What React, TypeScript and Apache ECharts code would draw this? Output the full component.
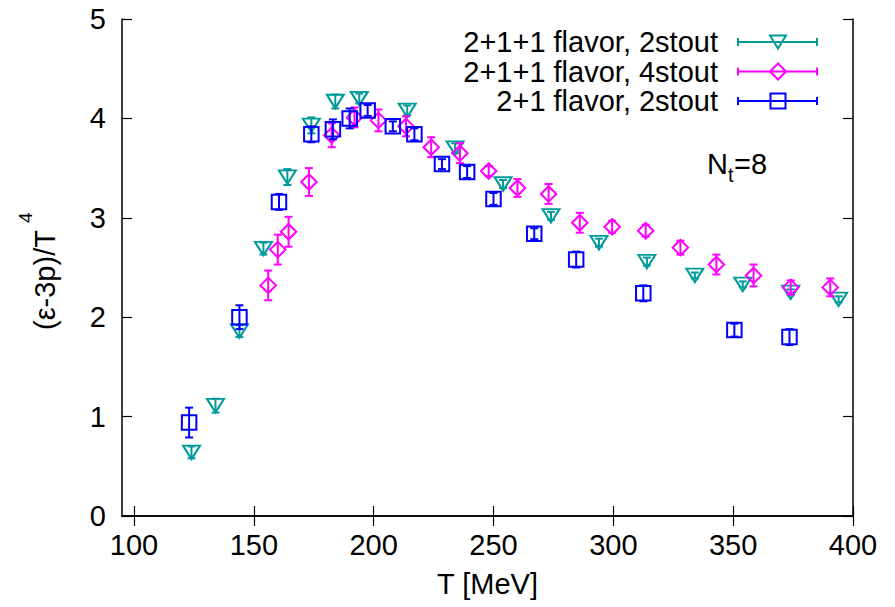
import React, { useEffect, useRef } from "react";
import * as echarts from "echarts";

// 2+1+1 flavor, 2stout (teal, down triangles)
const tealT = [124, 134, 144, 154, 164, 174, 184, 194, 214, 234, 254, 274, 294, 314, 334, 354, 374, 394];
const tealV = [0.64, 1.11, 1.86, 2.69, 3.41, 3.93, 4.17, 4.2, 4.08, 3.7, 3.34, 3.02, 2.75, 2.56, 2.42, 2.33, 2.25, 2.18];
const tealE = [0.06, 0.07, 0.06, 0.06, 0.08, 0.08, 0.07, 0.05, 0.05, 0.05, 0.04, 0.04, 0.04, 0.04, 0.03, 0.03, 0.03, 0.03];

// 2+1+1 flavor, 4stout (magenta, diamonds)
const magT = [156, 160, 164.5, 173, 182.5, 192, 202, 213.5, 224, 236, 248, 260, 273, 286, 299.5, 313.5, 328, 343, 358.5, 374, 390.5];
const magV = [2.32, 2.68, 2.86, 3.36, 3.83, 4.01, 3.98, 3.92, 3.71, 3.65, 3.47, 3.3, 3.24, 2.95, 2.91, 2.87, 2.7, 2.53, 2.42, 2.3, 2.3];
const magE = [0.15, 0.15, 0.15, 0.14, 0.12, 0.1, 0.11, 0.1, 0.1, 0.1, 0.05, 0.09, 0.1, 0.1, 0.06, 0.06, 0.07, 0.1, 0.11, 0.07, 0.09];

// 2+1 flavor, 2stout (blue, squares)
const blueT = [123, 144, 160.5, 174, 183, 190, 197.5, 208, 217, 228.5, 239, 250, 267, 284.5, 312.5, 350.5, 373.5];
const blueV = [0.94, 2.0, 3.16, 3.84, 3.89, 4.0, 4.08, 3.92, 3.84, 3.54, 3.46, 3.19, 2.84, 2.58, 2.24, 1.87, 1.8];
const blueE = [0.15, 0.12, 0.08, 0.08, 0.1, 0.1, 0.055, 0.05, 0.06, 0.05, 0.06, 0.06, 0.055, 0.08, 0.08, 0.065, 0.08];

const xTicks = [100, 150, 200, 250, 300, 350, 400];
const seriesNames = ["2+1+1 flavor, 2stout", "2+1+1 flavor, 4stout", "2+1 flavor, 2stout"];

const TEAL = "#009a9a";
const MAG = "#ff00ff";
const BLUE = "#0000ff";
const FONT = "Liberation Sans, Arial, sans-serif";
const FS = 29;

function errBars(color: string, T: number[], V: number[], E: number[], z: number) {
  return {
    type: "custom",
    data: T.map((t, i) => [t, V[i], E[i]]),
    encode: { x: 0, y: 1 },
    z,
    silent: true,
    renderItem: (_p: any, api: any) => {
      const x = api.value(0);
      const y = api.value(1);
      const e = api.value(2);
      const lo = api.coord([x, y - e]);
      const hi = api.coord([x, y + e]);
      const c = 4;
      const st = { stroke: color, lineWidth: 2 };
      return {
        type: "group",
        children: [
          { type: "line", shape: { x1: lo[0], y1: lo[1], x2: hi[0], y2: hi[1] }, style: st },
          { type: "line", shape: { x1: lo[0] - c, y1: lo[1], x2: lo[0] + c, y2: lo[1] }, style: st },
          { type: "line", shape: { x1: hi[0] - c, y1: hi[1], x2: hi[0] + c, y2: hi[1] }, style: st },
        ],
      };
    },
  };
}

function markers(name: string, color: string, T: number[], V: number[], symbol: string, size: any, rotate: number, z: number) {
  return {
    type: "scatter",
    name,
    data: T.map((t, i) => [t, V[i]]),
    symbol,
    symbolSize: size,
    symbolRotate: rotate,
    z,
    itemStyle: { color: "transparent", borderColor: color, borderWidth: 2, opacity: 1 },
  };
}

function legendRow(i: number, label: string, color: string, shape: any) {
  const y = 42 + i * 29.5;
  const st = { stroke: color, lineWidth: 2 };
  return [
    {
      type: "text",
      x: 718,
      y,
      style: { text: label, font: `${FS}px ${FONT}`, fill: "#000", align: "right", verticalAlign: "middle" },
    },
    { type: "line", shape: { x1: 738, y1: y, x2: 817, y2: y }, style: st },
    { type: "line", shape: { x1: 738, y1: y - 4, x2: 738, y2: y + 4 }, style: st },
    { type: "line", shape: { x1: 817, y1: y - 4, x2: 817, y2: y + 4 }, style: st },
    { ...shape(778, y), style: { fill: "none", stroke: color, lineWidth: 2 } },
  ];
}

export default function App() {
  const ref = useRef<HTMLDivElement>(null);
  useEffect(() => {
    if (!ref.current) return;
    const chart = echarts.init(ref.current, null, { renderer: "svg" });
    const axisLine = { show: true, lineStyle: { color: "#000", width: 1.5 } };
    const tick = { show: true, inside: true, length: 10, lineStyle: { color: "#000", width: 1.2 } };
    const option: any = {
      animation: false,
      backgroundColor: "#fff",
      grid: { left: 122, right: 42, top: 19, bottom: 91, containLabel: false, outerBoundsMode: "none" },
      xAxis: [
        {
          type: "value",
          min: 95,
          max: 400,
          position: "bottom",
          axisLine,
          axisTick: { ...tick, customValues: xTicks },
          axisLabel: {
            customValues: xTicks,
            fontSize: FS,
            fontFamily: FONT,
            color: "#000",
            margin: 14,
          },
          splitLine: { show: false },
          name: "T [MeV]",
          nameLocation: "middle",
          nameGap: 53,
          nameTextStyle: { fontSize: FS, fontFamily: FONT, color: "#000" },
        },
        {
          type: "value",
          min: 95,
          max: 400,
          position: "top",
          axisLine,
          axisTick: { ...tick, customValues: xTicks },
          axisLabel: { show: false },
          splitLine: { show: false },
        },
      ],
      yAxis: [
        {
          type: "value",
          min: 0,
          max: 5,
          interval: 1,
          position: "left",
          axisLine,
          axisTick: tick,
          axisLabel: { fontSize: FS, fontFamily: FONT, color: "#000", margin: 16 },
          splitLine: { show: false },
        },
        {
          type: "value",
          min: 0,
          max: 5,
          interval: 1,
          position: "right",
          axisLine,
          axisTick: tick,
          axisLabel: { show: false },
          splitLine: { show: false },
        },
      ],
      series: [
        errBars(TEAL, tealT, tealV, tealE, 2),
        markers(seriesNames[0], TEAL, tealT, tealV, "triangle", [17, 13.5], 180, 3),
        errBars(MAG, magT, magV, magE, 4),
        markers(seriesNames[1], MAG, magT, magV, "diamond", 15.5, 0, 5),
        errBars(BLUE, blueT, blueV, blueE, 6),
        markers(seriesNames[2], BLUE, blueT, blueV, "rect", 14.5, 0, 7),
      ],
      graphic: [
        ...legendRow(0, seriesNames[0], TEAL, (x: number, y: number) => ({
          type: "polygon",
          shape: { points: [[x - 8, y - 6.5], [x + 8, y - 6.5], [x, y + 6.5]] },
        })),
        ...legendRow(1, seriesNames[1], MAG, (x: number, y: number) => ({
          type: "polygon",
          shape: { points: [[x - 8, y], [x, y - 8], [x + 8, y], [x, y + 8]] },
        })),
        ...legendRow(2, seriesNames[2], BLUE, (x: number, y: number) => ({
          type: "rect",
          shape: { x: x - 7.5, y: y - 7.5, width: 15, height: 15 },
        })),
        {
          type: "text",
          x: 707,
          y: 164,
          style: { text: "N", font: `${FS}px ${FONT}`, fill: "#000", verticalAlign: "middle" },
        },
        {
          type: "text",
          x: 728,
          y: 175,
          style: { text: "t", font: `20px ${FONT}`, fill: "#000", verticalAlign: "middle" },
        },
        {
          type: "text",
          x: 734,
          y: 164,
          style: { text: "=8", font: `${FS}px ${FONT}`, fill: "#000", verticalAlign: "middle" },
        },
        {
          type: "group",
          x: 45,
          y: 330,
          rotation: Math.PI / 2,
          children: [
            {
              type: "text",
              x: 0,
              y: 0,
              style: { text: "(ε-3p)/T", font: `${FS}px ${FONT}`, fill: "#000", align: "left", verticalAlign: "middle" },
            },
            {
              type: "text",
              x: 107,
              y: -20,
              style: { text: "4", font: `19px ${FONT}`, fill: "#000", align: "left", verticalAlign: "middle" },
            },
          ],
        },
      ],
    };
    chart.setOption(option);
    return () => chart.dispose();
  }, []);
  return (
    <div
      ref={ref}
      style={{ position: "fixed", left: 0, top: 0, width: 895, height: 607, background: "#fff" }}
    />
  );
}
